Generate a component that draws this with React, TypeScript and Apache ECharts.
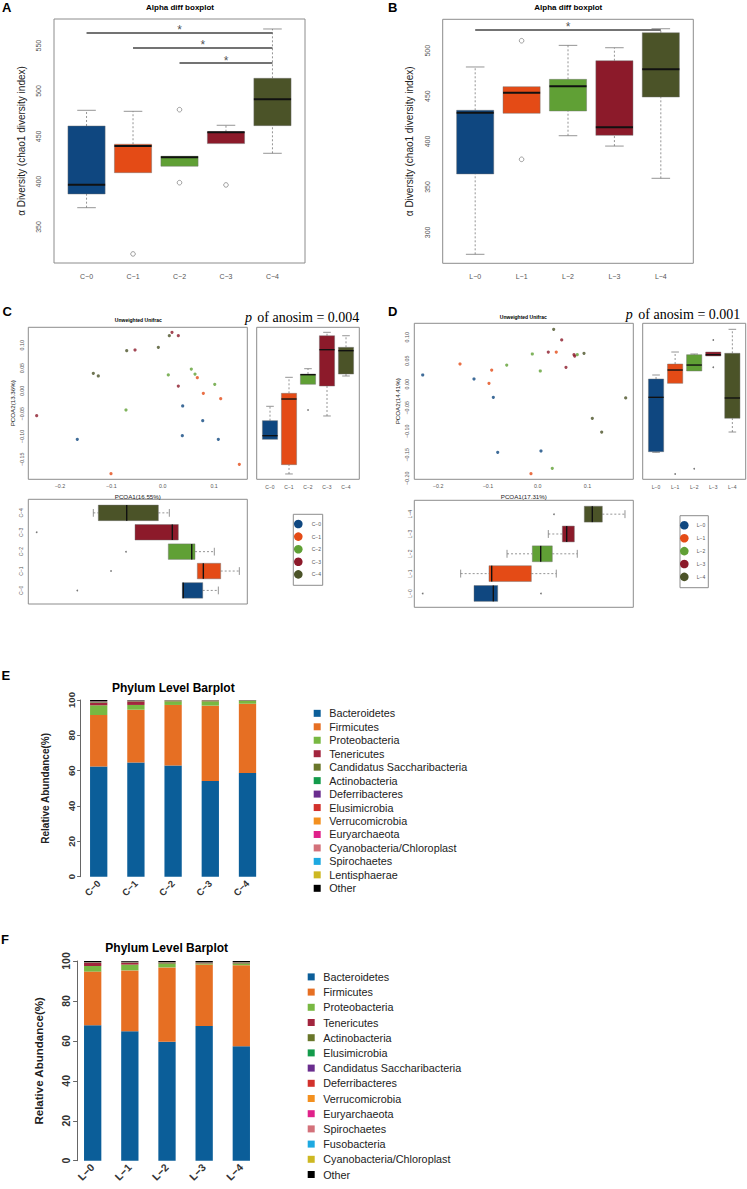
import React, { useEffect, useRef } from 'react';
import * as echarts from 'echarts';

const W = 747;
const H = 1189;
const FONT = 'Liberation Sans';
const SERIF = 'Liberation Serif';

// ---------- groups ----------
const groupsC = ['C−0', 'C−1', 'C−2', 'C−3', 'C−4'];
const groupsL = ['L−0', 'L−1', 'L−2', 'L−3', 'L−4'];
const groupColors = ['#0F4780', '#E44B16', '#60A035', '#8C1A2A', '#4B5328'];

// ---------- Panel A: chao1 box stats [low whisker, Q1, median, Q3, high whisker] ----------
const chaoBoxC = [
  [371.3, 386.4, 396.7, 461.4, 478.7],
  [409.9, 409.9, 439.4, 441.3, 477.6],
  [417.0, 417.0, 426.9, 428.0, 428.0],
  [442.0, 442.0, 454.5, 455.1, 462.2],
  [431.3, 461.8, 490.9, 514.0, 568.4],
];
const chaoOutC = [[2, 320.3], [3, 479.4], [3, 398.9], [4, 396.4]];
const chaoSigC = [[1, 5, 564.3], [2, 5, 548.2], [3, 5, 530.6]];
const chaoTicksC = [350, 400, 450, 500, 550];

// ---------- Panel B ----------
const chaoBoxL = [
  [275.8, 364.3, 431.7, 434.4, 482.1],
  [431.1, 431.1, 453.8, 460.4, 460.4],
  [406.4, 433.6, 460.8, 468.5, 505.9],
  [395.0, 406.8, 415.7, 489.0, 503.3],
  [359.5, 449.0, 479.5, 519.8, 524.2],
];
const chaoOutL = [[2, 511.0], [2, 380.4]];
const chaoSigL = [[1, 5, 523.5]];
const chaoTicksL = [300, 350, 400, 450, 500];

// ---------- Panel C: PCoA points per group [PCOA1, PCOA2] ----------
const pcoaC0 = [[-0.1663, -0.1062], [0.0389, -0.0331], [0.0779, -0.0653], [0.0382, -0.0982], [0.1083, -0.1062]];
const pcoaC1 = [[0.0674, 0.029], [0.0791, -0.0053], [0.1129, -0.0171], [-0.1007, -0.1815], [0.1492, -0.161]];
const pcoaC2 = [[-0.0715, -0.0419], [0.0109, 0.0349], [0.0557, 0.048], [0.0629, 0.037], [0.1013, 0.0144]];
const pcoaC3 = [[-0.2454, -0.0543], [-0.0539, 0.0897], [0.0181, 0.1285], [0.0304, 0.121], [0.0304, 0.0107]];
const pcoaC4 = [[-0.1351, 0.0385], [-0.1254, 0.0327], [-0.0701, 0.0882], [-0.0085, 0.0956], [0.0129, 0.121]];
const pcoaC = [pcoaC0, pcoaC1, pcoaC2, pcoaC3, pcoaC4];

const pc2BoxC = [
  [-0.1062, -0.1062, -0.0982, -0.0653, -0.0338],
  [-0.1822, -0.1618, -0.0178, -0.0053, 0.0298],
  [0.0145, 0.0145, 0.0355, 0.037, 0.0487],
  [-0.055, 0.0107, 0.0904, 0.121, 0.1285],
  [0.0327, 0.037, 0.0882, 0.0956, 0.121],
];
const pc2OutC = [[3, -0.0419]];
const pc1BoxC = [
  [0.0382, 0.0382, 0.0401, 0.0779, 0.1083],
  [0.0674, 0.0674, 0.0791, 0.1129, 0.1492],
  [0.0109, 0.0109, 0.0565, 0.0629, 0.1005],
  [-0.0539, -0.0539, 0.0187, 0.0304, 0.0304],
  [-0.1351, -0.1254, -0.0701, -0.0085, 0.0129],
];
const pc1OutC = [[1, -0.1663], [2, -0.1007], [3, -0.0715], [4, -0.2454]];

// ---------- Panel D ----------
const pcoaL0 = [[-0.2309, 0.0198], [-0.1279, 0.0113], [-0.0891, -0.0277], [-0.0803, -0.1447], [0.0066, -0.1419]];
const pcoaL1 = [[-0.156, 0.0432], [-0.0924, 0.0304], [-0.0978, 0.0021], [0.0373, 0.0687], [-0.0135, -0.1902]];
const pcoaL2 = [[-0.0622, 0.041], [-0.0108, 0.0645], [0.0052, 0.0283], [0.0795, 0.063], [0.0293, -0.1787]];
const pcoaL3 = [[0.0213, 0.0687], [0.0482, 0.0943], [0.0568, 0.0362], [0.0729, 0.063], [0.0743, 0.0602]];
const pcoaL4 = [[0.0321, 0.117], [0.093, 0.066], [0.1767, -0.0291], [0.1097, -0.0723], [0.1285, -0.1015]];
const pcoaL = [pcoaL0, pcoaL1, pcoaL2, pcoaL3, pcoaL4];

const pc2BoxL = [
  [-0.1447, -0.1434, -0.0277, 0.0113, 0.0198],
  [0.0021, 0.0021, 0.0304, 0.0432, 0.0687],
  [0.0283, 0.0283, 0.041, 0.063, 0.0645],
  [0.0602, 0.0602, 0.063, 0.0687, 0.0687],
  [-0.1015, -0.0723, -0.0291, 0.066, 0.117],
];
const pc2OutL = [[2, -0.1909], [3, -0.1795], [4, 0.0943], [4, 0.0362]];
const pc1BoxL = [
  [-0.1279, -0.1279, -0.0891, -0.0803, -0.0803],
  [-0.1547, -0.0978, -0.0924, -0.0128, 0.0373],
  [-0.0616, -0.0108, 0.006, 0.0293, 0.0795],
  [0.0213, 0.0495, 0.0582, 0.0736, 0.0736],
  [0.0936, 0.0936, 0.1097, 0.1298, 0.1753],
];
const pc1OutL = [[1, -0.2309], [1, 0.0066], [5, 0.0327]];

const pcTicksX = [-0.2, -0.1, 0, 0.1];
const pcTicksYC = [-0.15, -0.1, -0.05, 0, 0.05, 0.1];
const pcTicksYL = [-0.2, -0.15, -0.1, -0.05, 0, 0.05, 0.1];

// ---------- Panel E / F: relative abundance ----------
const phylumColors = ['#0B5E99', '#E66F23', '#78B842', '#A2253E', '#69762A', '#139B4B', '#6A2D8E',
  '#D2312C', '#F3901F', '#E0218A', '#D3717A', '#1DA9E1', '#CDB822', '#000000'];

const phylaE = ['Bacteroidetes', 'Firmicutes', 'Proteobacteria', 'Tenericutes', 'Candidatus Saccharibacteria',
  'Actinobacteria', 'Deferribacteres', 'Elusimicrobia', 'Verrucomicrobia', 'Euryarchaeota',
  'Cyanobacteria/Chloroplast', 'Spirochaetes', 'Lentisphaerae', 'Other'];
const abundE = [
  [62.3, 64.7, 63.0, 54.2, 58.7],
  [29.2, 29.8, 34.2, 42.6, 39.2],
  [5.5, 2.7, 2.1, 2.5, 1.7],
  [1.5, 2.0, 0.2, 0.3, 0.2],
  [0.3, 0.2, 0.3, 0.2, 0.1],
  [0.1, 0.1, 0.05, 0.05, 0.05],
  [0.1, 0.1, 0.05, 0.02, 0.02],
  [0.05, 0.05, 0.02, 0.02, 0.02],
  [0.05, 0.05, 0.02, 0.02, 0.02],
  [0.05, 0.02, 0.02, 0.02, 0.02],
  [0.05, 0.02, 0.02, 0.02, 0.02],
  [0.02, 0.02, 0.02, 0.01, 0.01],
  [0.01, 0.01, 0.01, 0.01, 0.01],
  [0.77, 0.23, 0.0, 0.03, 0.06],
];

const phylaF = ['Bacteroidetes', 'Firmicutes', 'Proteobacteria', 'Tenericutes', 'Actinobacteria',
  'Elusimicrobia', 'Candidatus Saccharibacteria', 'Deferribacteres', 'Verrucomicrobia', 'Euryarchaeota',
  'Spirochaetes', 'Fusobacteria', 'Cyanobacteria/Chloroplast', 'Other'];
const abundF = [
  [67.8, 64.8, 59.6, 67.5, 57.3],
  [26.9, 30.5, 37.2, 30.7, 40.6],
  [2.8, 2.9, 1.7, 0.4, 0.6],
  [1.5, 1.0, 0.2, 0.2, 0.2],
  [0.2, 0.2, 0.5, 0.3, 0.5],
  [0.05, 0.05, 0.05, 0.05, 0.05],
  [0.05, 0.05, 0.05, 0.05, 0.05],
  [0.03, 0.03, 0.03, 0.03, 0.03],
  [0.03, 0.03, 0.03, 0.03, 0.03],
  [0.02, 0.02, 0.02, 0.02, 0.02],
  [0.02, 0.02, 0.02, 0.02, 0.02],
  [0.01, 0.01, 0.01, 0.01, 0.01],
  [0.01, 0.01, 0.01, 0.01, 0.01],
  [0.58, 0.38, 0.58, 0.68, 0.58],
];
const abundTicks = [0, 20, 40, 60, 80, 100];

// ---------- helpers ----------
function boxRender(horizontal: boolean, medianWidth: number, boxHalf: number, capHalf: number) {
  return (_params: any, api: any) => {
    const pos = api.value(0);
    const lo = api.value(1), q1 = api.value(2), med = api.value(3), q3 = api.value(4), hi = api.value(5);
    const pt = (a: number, v: number) => (horizontal ? api.coord([v, a]) : api.coord([a, v]));
    const seg = (a1: number, v1: number, a2: number, v2: number) => {
      const p1 = pt(a1, v1), p2 = pt(a2, v2);
      return { x1: p1[0], y1: p1[1], x2: p2[0], y2: p2[1] };
    };
    const color = api.visual('color');
    const whisk = { stroke: '#7a7a7a', lineWidth: 0.8, lineDash: [2, 2], fill: null };
    const capS = { stroke: '#7a7a7a', lineWidth: 0.8, fill: null };
    const children: any[] = [];
    if (hi > q3) {
      children.push({ type: 'line', shape: seg(pos, q3, pos, hi), style: whisk });
      children.push({ type: 'line', shape: seg(pos - capHalf, hi, pos + capHalf, hi), style: capS });
    }
    if (lo < q1) {
      children.push({ type: 'line', shape: seg(pos, lo, pos, q1), style: whisk });
      children.push({ type: 'line', shape: seg(pos - capHalf, lo, pos + capHalf, lo), style: capS });
    }
    const c1 = pt(pos - boxHalf, q1), c2 = pt(pos + boxHalf, q3);
    children.push({
      type: 'rect',
      shape: { x: Math.min(c1[0], c2[0]), y: Math.min(c1[1], c2[1]), width: Math.abs(c2[0] - c1[0]), height: Math.abs(c2[1] - c1[1]) },
      style: { fill: color, stroke: 'rgba(110,110,110,0.55)', lineWidth: 0.8 },
    });
    children.push({ type: 'line', shape: seg(pos - boxHalf, med, pos + boxHalf, med), style: { stroke: '#111', lineWidth: medianWidth } });
    return { type: 'group', children };
  };
}

function boxSeries(idx: number, stats: number[][], horizontal: boolean, medianWidth: number) {
  return {
    type: 'custom',
    xAxisIndex: idx,
    yAxisIndex: idx,
    renderItem: boxRender(horizontal, medianWidth, 0.4, 0.2),
    encode: horizontal ? { x: [1, 2, 3, 4, 5], y: 0 } : { x: 0, y: [1, 2, 3, 4, 5] },
    data: stats.map((s, i) => ({ value: [i + 1, ...s], itemStyle: { color: groupColors[i] } })),
    silent: true,
    z: 3,
  };
}

function outlierSeries(idx: number, pts: number[][], horizontal: boolean, hollow: boolean) {
  return {
    type: 'scatter',
    xAxisIndex: idx,
    yAxisIndex: idx,
    symbol: 'circle',
    symbolSize: hollow ? 4.6 : 1.7,
    itemStyle: hollow ? { color: 'rgba(0,0,0,0)', borderColor: '#6a6a6a', borderWidth: 0.8 } : { color: '#555' },
    data: pts.map((p) => (horizontal ? [p[1], p[0]] : [p[0], p[1]])),
    silent: true,
    z: 4,
  };
}

function sigSeries(idx: number, sig: number[][]) {
  return {
    type: 'scatter',
    xAxisIndex: idx,
    yAxisIndex: idx,
    symbol: 'circle',
    symbolSize: 0.01,
    itemStyle: { color: 'rgba(0,0,0,0)' },
    data: sig.map((s) => [(s[0] + s[1]) / 2, s[2]]),
    label: { show: true, position: 'inside', formatter: '*', fontSize: 12, color: '#222', fontFamily: FONT, offset: [0, -2.5] },
    markLine: {
      silent: true,
      symbol: ['none', 'none'],
      label: { show: false },
      lineStyle: { color: '#454545', width: 1.6, type: 'solid' },
      data: sig.map((s) => [{ coord: [s[0], s[2]] }, { coord: [s[1], s[2]] }]),
    },
    silent: true,
    z: 5,
  };
}

const hidden = { axisLine: { show: false }, axisTick: { show: false }, splitLine: { show: false } };

function valAxis(gridIndex: number, min: number, max: number, label?: any, extra: any = {}) {
  return { gridIndex, type: 'value', min, max, ...hidden, axisLabel: label ? label : { show: false }, ...extra };
}
function catLabels(names: string[], fontSize: number, margin: number, rotate = 0) {
  return {
    show: true, customValues: [1, 2, 3, 4, 5],
    formatter: (v: number) => names[Math.round(v) - 1] ?? '',
    fontSize, margin, rotate, color: '#555', fontFamily: FONT,
  };
}
function numLabels(values: number[], digits: number, fontSize: number, margin: number, rotate = 0) {
  return {
    show: true, customValues: values,
    formatter: (v: number) => (v < -1e-9 ? '−' : '') + Math.abs(v).toFixed(digits),
    fontSize, margin, rotate, color: '#555', fontFamily: FONT,
  };
}
function axName(name: string, gap: number, fontSize: number, weight = 'normal') {
  return { name, nameLocation: 'middle', nameGap: gap, nameTextStyle: { fontSize, color: '#222', fontFamily: FONT, fontWeight: weight } };
}

function txt(text: string, x: number, y: number, font: string, align = 'center', fill = '#000') {
  return {
    type: 'text', x, y, silent: true,
    style: { text, font, fill, align, verticalAlign: 'middle', textAlign: align, textVerticalAlign: 'middle' },
  };
}

function groupLegend(names: string[], x0: number, y0: number, w: number, h: number, cx: number, cy0: number, step: number, tx: number) {
  const els: any[] = [
    { type: 'rect', silent: true, shape: { x: x0, y: y0, width: w, height: h }, style: { fill: '#fff', stroke: '#8c8c8c', lineWidth: 1 } },
  ];
  names.forEach((n, i) => {
    els.push({ type: 'circle', silent: true, shape: { cx, cy: cy0 + i * step, r: 4.3 }, style: { fill: groupColors[i] } });
    els.push(txt(n, tx, cy0 + i * step, `5px ${FONT}`, 'left', '#555'));
  });
  return els;
}

function buildOption(): any {
  const frame = { show: true, borderColor: '#8c8c8c', borderWidth: 1, backgroundColor: 'rgba(0,0,0,0)' };
  const grid = [
    { left: 54, top: 19, width: 251, height: 244, ...frame },
    { left: 442.7, top: 19.3, width: 250.6, height: 244, ...frame },
    { left: 28.3, top: 327.3, width: 219, height: 152, ...frame },
    { left: 256.7, top: 327.3, width: 102.6, height: 152, ...frame },
    { left: 28.3, top: 499.3, width: 219, height: 104.7, ...frame },
    { left: 414.3, top: 323.3, width: 219, height: 156, ...frame },
    { left: 642.7, top: 323.3, width: 103, height: 156, ...frame },
    { left: 414.3, top: 500.3, width: 219, height: 107, ...frame },
    { left: 80.1, top: 700, width: 186, height: 176.7 },
    { left: 74.1, top: 961, width: 185.8, height: 199.7 },
  ];

  const xAxis = [
    valAxis(0, 0.3, 5.7, catLabels(groupsC, 7, 9.5)),
    valAxis(1, 0.3, 5.7, catLabels(groupsL, 7, 9.5)),
    valAxis(2, -0.2617, 0.1647, numLabels(pcTicksX, 1, 5.3, 4.5), axName('PCOA1(16.55%)', 14.2, 6.2)),
    valAxis(3, 0.3, 5.7, catLabels(groupsC, 5, 5)),
    valAxis(4, -0.2617, 0.1647),
    valAxis(5, -0.2478, 0.192, numLabels(pcTicksX, 1, 5.3, 4.5), axName('PCOA1(17.31%)', 14.5, 6.2)),
    valAxis(6, 0.3, 5.7, catLabels(groupsL, 5, 5)),
    valAxis(7, -0.2478, 0.192),
    {
      gridIndex: 8, type: 'category', data: groupsC, ...hidden,
      axisLabel: { interval: 0, rotate: 45, margin: 5, fontSize: 9.5, fontWeight: 'bold', color: '#333', fontFamily: FONT },
    },
    {
      gridIndex: 9, type: 'category', data: groupsL, ...hidden,
      axisLabel: { interval: 0, rotate: 45, margin: 5, fontSize: 10.5, fontWeight: 'bold', color: '#333', fontFamily: FONT },
    },
  ];

  const yAxis = [
    valAxis(0, 310.3, 579.4, numLabels(chaoTicksC, 0, 7, 12, 90), axName('α Diversity (chao1 diversity index)', 28, 10)),
    valAxis(1, 265.9, 534.6, numLabels(chaoTicksL, 0, 7, 12, 90), axName('α Diversity (chao1 diversity index)', 28.4, 10)),
    valAxis(2, -0.1939, 0.1395, numLabels(pcTicksYC, 2, 5.3, 4.3, 90), axName('PCOA2(13.36%)', 13.3, 6.2)),
    valAxis(3, -0.1939, 0.1395),
    valAxis(4, 0.3, 5.7, catLabels(groupsC, 5, 5, 90)),
    valAxis(5, -0.2021, 0.1298, numLabels(pcTicksYL, 2, 5.3, 5, 90), axName('PCOA2(14.41%)', 14.3, 6.2)),
    valAxis(6, -0.2021, 0.1298),
    valAxis(7, 0.3, 5.7, catLabels(groupsL, 5, 1.5, 90)),
    {
      gridIndex: 8, type: 'value', min: 0, max: 100, interval: 20, splitLine: { show: false },
      axisLine: { show: true, lineStyle: { color: '#666', width: 1 } },
      axisTick: { show: true, length: 3, lineStyle: { color: '#666' } },
      axisLabel: { customValues: abundTicks, rotate: 90, margin: 4, fontSize: 9.5, fontWeight: 'bold', color: '#333', fontFamily: FONT },
      ...axName('Relative Abundance(%)', 30, 10, 'bold'),
    },
    {
      gridIndex: 9, type: 'value', min: 0, max: 100, interval: 20, offset: -3, splitLine: { show: false },
      axisLine: { show: true, lineStyle: { color: '#666', width: 1 } },
      axisTick: { show: true, length: 4, lineStyle: { color: '#666' } },
      axisLabel: { customValues: abundTicks, rotate: 90, margin: 6, fontSize: 10.5, fontWeight: 'bold', color: '#333', fontFamily: FONT },
      ...axName('Relative Abundance(%)', 32, 11.5, 'bold'),
    },
  ];

  const series: any[] = [];
  // A
  series.push(boxSeries(0, chaoBoxC, false, 2));
  series.push(outlierSeries(0, chaoOutC, false, true));
  series.push(sigSeries(0, chaoSigC));
  // B
  series.push(boxSeries(1, chaoBoxL, false, 2));
  series.push(outlierSeries(1, chaoOutL, false, true));
  series.push(sigSeries(1, chaoSigL));
  // C scatter
  pcoaC.forEach((pts, i) => series.push({
    type: 'scatter', name: groupsC[i], xAxisIndex: 2, yAxisIndex: 2, symbol: 'circle', symbolSize: 3.2,
    itemStyle: { color: groupColors[i] }, data: pts, silent: true,
  }));
  series.push(boxSeries(3, pc2BoxC, false, 1.4));
  series.push(outlierSeries(3, pc2OutC, false, false));
  series.push(boxSeries(4, pc1BoxC, true, 1.4));
  series.push(outlierSeries(4, pc1OutC, true, false));
  // D scatter
  pcoaL.forEach((pts, i) => series.push({
    type: 'scatter', name: groupsL[i], xAxisIndex: 5, yAxisIndex: 5, symbol: 'circle', symbolSize: 3.2,
    itemStyle: { color: groupColors[i] }, data: pts, silent: true,
  }));
  series.push(boxSeries(6, pc2BoxL, false, 1.4));
  series.push(outlierSeries(6, pc2OutL, false, false));
  series.push(boxSeries(7, pc1BoxL, true, 1.4));
  series.push(outlierSeries(7, pc1OutL, true, false));
  // E
  phylaE.forEach((name, i) => series.push({
    type: 'bar', name, xAxisIndex: 8, yAxisIndex: 8, stack: 'E', barWidth: 17.3,
    itemStyle: { color: phylumColors[i] }, data: abundE[i], silent: true,
  }));
  // F
  phylaF.forEach((name, i) => series.push({
    type: 'bar', name, xAxisIndex: 9, yAxisIndex: 9, stack: 'F', barWidth: 17.3,
    itemStyle: { color: phylumColors[i] }, data: abundF[i], silent: true,
  }));

  const legendBase = {
    orient: 'vertical', padding: 0, itemGap: 0, itemWidth: 14, itemHeight: 7,
    icon: 'path://M0 0H7V7H0Z', selectedMode: false,
  };
  const legend = [
    {
      ...legendBase, left: 313.7, top: 706.6,
      textStyle: { fontFamily: FONT, fontSize: 10.8, color: '#222', lineHeight: 13.46 },
      data: phylaE.map((n, i) => ({ name: n, itemStyle: { color: phylumColors[i] } })),
    },
    {
      ...legendBase, left: 307.7, top: 969.3,
      textStyle: { fontFamily: FONT, fontSize: 10.8, color: '#222', lineHeight: 15.2 },
      data: phylaF.map((n, i) => ({ name: n, itemStyle: { color: phylumColors[i] } })),
    },
  ];

  const bold = (s: number) => `bold ${s}px ${FONT}`;
  const graphic = [
    txt('A', 6.7, 7, bold(13)),
    txt('B', 392.7, 7.2, bold(13)),
    txt('C', 7.2, 311.7, bold(13)),
    txt('D', 392.7, 311, bold(13)),
    txt('E', 5.8, 675, bold(13)),
    txt('F', 5, 939, bold(13)),
    txt('Alpha diff boxplot', 180, 7, bold(8)),
    txt('Alpha diff boxplot', 568.3, 7, bold(8)),
    txt('Unweighted Unifrac', 138.3, 319.7, bold(5)),
    txt('Unweighted Unifrac', 523.3, 316.7, bold(5)),
    txt('Phylum Level Barplot', 173.3, 688.3, bold(12)),
    txt('Phylum Level Barplot', 166.7, 948.3, bold(12)),
    txt('p', 245, 317.7, `italic 14px ${SERIF}`, 'left'),
    txt('of anosim = 0.004', 257.3, 317.7, `14px ${SERIF}`, 'left'),
    txt('p', 625.7, 314.3, `italic 14px ${SERIF}`, 'left'),
    txt('of anosim = 0.001', 638.3, 314.3, `14px ${SERIF}`, 'left'),
    ...groupLegend(groupsC, 293.3, 514.3, 29.4, 71, 298.3, 524, 12.6, 311.7),
    ...groupLegend(groupsL, 680, 515.7, 28.3, 72, 684.3, 525.3, 12.9, 696.7),
  ];

  return {
    animation: false,
    backgroundColor: '#ffffff',
    textStyle: { fontFamily: FONT },
    grid, xAxis, yAxis, series, legend, graphic,
  };
}

export default function App() {
  const ref = useRef<HTMLDivElement>(null);
  useEffect(() => {
    if (!ref.current) return;
    const chart = echarts.init(ref.current, null, { renderer: 'svg', width: W, height: H });
    chart.setOption(buildOption());
    return () => chart.dispose();
  }, []);
  return <div ref={ref} style={{ position: 'absolute', left: 0, top: 0, width: W, height: H, background: '#fff' }} />;
}
